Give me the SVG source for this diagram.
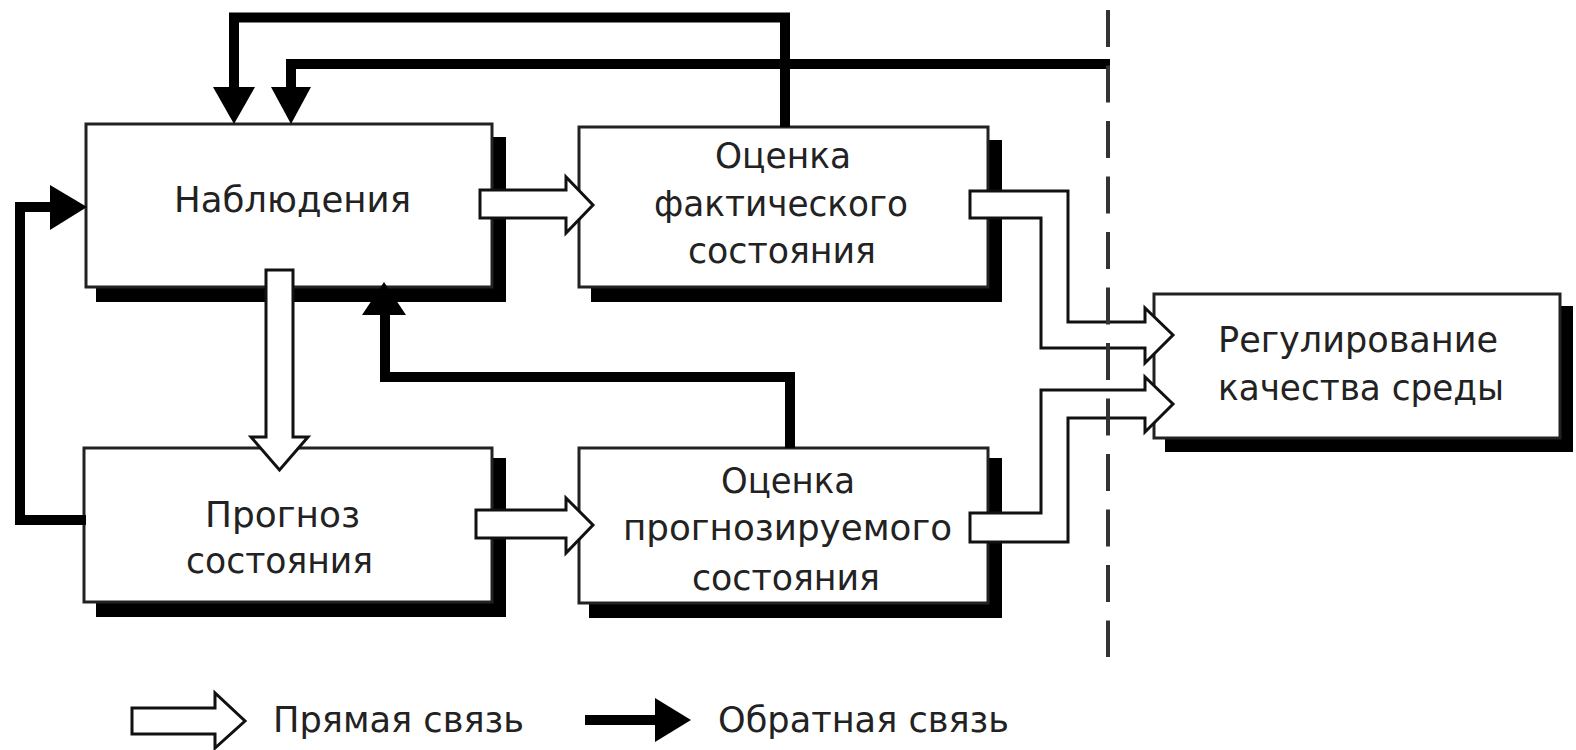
<svg xmlns="http://www.w3.org/2000/svg" width="1576" height="750" viewBox="0 0 1576 750">
<style>
.shadow{fill:#000}
.box{fill:#fff;stroke:#222;stroke-width:3}
.lbl{font-family:"DejaVu Sans","Verdana",sans-serif;font-size:36px;fill:#222}
.hollow{fill:#fff;stroke:#111;stroke-width:3;stroke-linejoin:miter}
.fb{fill:none;stroke:#000;stroke-width:10;stroke-linejoin:miter;stroke-linecap:butt}
.head{fill:#000}
.dash{stroke:#333;stroke-width:4;stroke-dasharray:37 18.5}
</style>
<rect width="1576" height="750" fill="#fff"/>

<g id="node-observations">
<rect class="shadow" x="96" y="137" width="410" height="165"/>
<rect class="box" x="86" y="124" width="406" height="163"/>
<text class="lbl" x="174" y="212" textLength="237" lengthAdjust="spacingAndGlyphs">Наблюдения</text>
</g>

<g id="node-actual">
<rect class="shadow" x="591" y="140" width="411" height="162"/>
<rect class="box" x="579" y="127" width="409" height="160"/>
<text class="lbl" x="715" y="168" textLength="136" lengthAdjust="spacingAndGlyphs">Оценка</text>
<text class="lbl" x="654" y="216" textLength="254" lengthAdjust="spacingAndGlyphs">фактического</text>
<text class="lbl" x="688" y="263" textLength="188" lengthAdjust="spacingAndGlyphs">состояния</text>
</g>

<g id="node-forecast">
<rect class="shadow" x="96" y="458" width="410" height="159"/>
<rect class="box" x="84" y="448" width="408" height="154"/>
<text class="lbl" x="205" y="527" textLength="155" lengthAdjust="spacingAndGlyphs">Прогноз</text>
<text class="lbl" x="186" y="573" textLength="187" lengthAdjust="spacingAndGlyphs">состояния</text>
</g>

<g id="node-forecast-eval">
<rect class="shadow" x="589" y="458" width="413" height="160"/>
<rect class="box" x="579" y="448" width="409" height="155"/>
<text class="lbl" x="721" y="493" textLength="134" lengthAdjust="spacingAndGlyphs">Оценка</text>
<text class="lbl" x="623" y="540" textLength="329" lengthAdjust="spacingAndGlyphs">прогнозируемого</text>
<text class="lbl" x="692" y="590" textLength="188" lengthAdjust="spacingAndGlyphs">состояния</text>
</g>

<g id="node-regulation">
<rect class="shadow" x="1165" y="306" width="408" height="146"/>
<rect class="box" x="1154" y="294" width="406" height="144"/>
<text class="lbl" x="1218" y="352" textLength="280" lengthAdjust="spacingAndGlyphs">Регулирование</text>
<text class="lbl" x="1218" y="400" textLength="286" lengthAdjust="spacingAndGlyphs">качества  среды</text>
</g>

<g id="connectors">
<!-- direct links (hollow arrows) -->
<polygon class="hollow" points="480,190 566,190 566,177 593,205 566,233 566,218 480,218"/>
<polygon class="hollow" points="266,270 293,270 293,437 308,437 279.5,470 251,437 266,437"/>
<polygon class="hollow" points="476,510 566,510 566,498 593,525 566,553 566,538 476,538"/>
<polygon class="hollow" points="970,191 1068,191 1068,322 1145,322 1145,308 1173,335 1145,363 1145,348 1041,348 1041,218 970,218"/>
<polygon class="hollow" points="970,513 1041,513 1041,390 1145,390 1145,377 1173,404 1145,432 1145,418 1068,418 1068,542 970,542"/>
<!-- feedback links (black) -->
<path class="fb" d="M785,127 V17.5 H234 V90"/>
<polygon class="head" points="213,87 255,87 234,124"/>
<path class="fb" d="M1110,64 H291 V90"/>
<polygon class="head" points="271,87 311,87 291,124"/>
<path class="fb" d="M86,520 H20 V207 H52"/>
<polygon class="head" points="50,185 50,230 87,207"/>
<path class="fb" d="M790,448 V377 H385 V312"/>
<polygon class="head" points="362,315 406,315 384,282"/>
<!-- boundary -->
<line class="dash" x1="1108" y1="10" x2="1108" y2="657"/>
</g>

<g id="legend">
<polygon class="hollow" points="132,708 215,708 215,693 245,721 215,748 215,734 132,734"/>
<text class="lbl" x="273" y="732" textLength="251" lengthAdjust="spacingAndGlyphs">Прямая связь</text>
<line class="fb" x1="585" y1="720" x2="658" y2="720"/>
<polygon class="head" points="655,698 691,720 655,742"/>
<text class="lbl" x="718" y="732" textLength="291" lengthAdjust="spacingAndGlyphs">Обратная связь</text>
</g>
</svg>
